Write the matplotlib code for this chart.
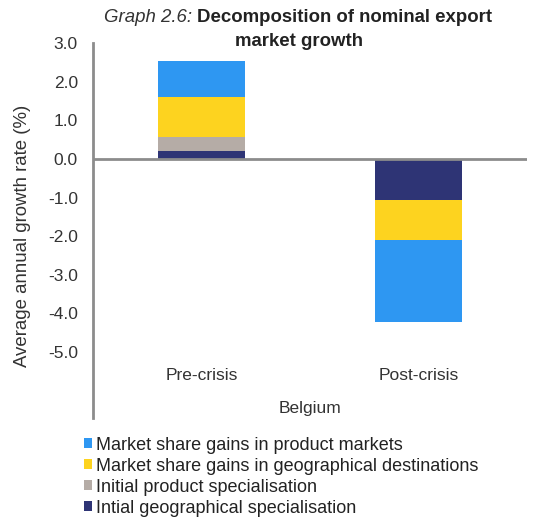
import matplotlib
matplotlib.use("Agg")
import matplotlib.pyplot as plt
from matplotlib.patches import Patch

plt.rcParams["font.family"] = ["Liberation Sans", "DejaVu Sans"]

categories = ["Pre-crisis", "Post-crisis"]
group_label = "Belgium"
series_names = [
    "Intial geographical specialisation",
    "Initial product specialisation",
    "Market share gains in geographical destinations",
    "Market share gains in product markets",
]
geo_spec = [0.21, -1.06]
prod_spec = [0.36, 0.0]
geo_dest = [1.04, -1.04]
prod_mkts = [0.93, -2.12]
colors = ["#2E3475", "#B5ACA6", "#FDD31F", "#2E97F2"]
yticks = [3.0, 2.0, 1.0, 0.0, -1.0, -2.0, -3.0, -4.0, -5.0]

FS = 12.5
TXT = "#333333"

fig = plt.figure(figsize=(5.35, 5.19), dpi=100)
ax = fig.add_axes([0.174, 0.195, 0.811, 0.722])

series = [geo_spec, prod_spec, geo_dest, prod_mkts]
x = list(range(len(categories)))
pos_base = [0.0] * len(x)
neg_base = [0.0] * len(x)
for vals, col in zip(series, colors):
    bottoms = []
    for i, v in enumerate(vals):
        if v >= 0:
            bottoms.append(pos_base[i]); pos_base[i] += v
        else:
            bottoms.append(neg_base[i]); neg_base[i] += v
    ax.bar(x, vals, bottom=bottoms, width=0.4, color=col, edgecolor="none", zorder=2)

ax.set_xlim(-0.5, 1.5)
ax.set_ylim(-6.7, 3.0)
ax.set_yticks(yticks)
ax.set_yticklabels([f"{t:.1f}" for t in yticks], fontsize=FS, color=TXT)
ax.tick_params(axis="y", length=0, pad=11)
ax.set_xticks([])
ax.axhline(0, color="#8C8C8C", lw=2, zorder=3)
for s in ["top", "right", "bottom"]:
    ax.spines[s].set_visible(False)
ax.spines["left"].set_color("#8C8C8C")
ax.spines["left"].set_linewidth(2)
ax.set_ylabel("Average annual growth rate (%)", fontsize=13.4, color=TXT, va="center")
ax.yaxis.set_label_coords(-0.163, 0.485)

for i, c in enumerate(categories):
    ax.text(i, -5.6, c, ha="center", va="center", fontsize=FS, color=TXT)
ax.text(0.5, -6.45, group_label, ha="center", va="center", fontsize=FS, color=TXT)

# Title with italic prefix and bold rest
TFS = 13.4
fig.canvas.draw()
r = fig.canvas.get_renderer()
ty = 1 - 18 / 519
t1 = fig.text(0, ty, "Graph 2.6: ", fontsize=TFS, style="italic", color=TXT, va="center")
t2 = fig.text(0, ty, "Decomposition of nominal export", fontsize=TFS, weight="bold", color="#222222", va="center")
w1 = t1.get_window_extent(r).width / fig.bbox.width
w2 = t2.get_window_extent(r).width / fig.bbox.width
start = 298 / 535 - (w1 + w2) / 2
t1.set_x(start)
t2.set_x(start + w1)
fig.text(299 / 535, 1 - 42 / 519, "market growth", fontsize=TFS, weight="bold", color="#222222", ha="center", va="center")

handles = [Patch(facecolor=colors[i], edgecolor="none") for i in [3, 2, 1, 0]]
labels = [series_names[i] for i in [3, 2, 1, 0]]
fig.legend(handles, labels, loc="upper left", bbox_to_anchor=(0.14, 0.176), frameon=False,
           fontsize=13, handlelength=0.45, handleheight=0.45, handletextpad=0.2,
           labelspacing=0.22, borderpad=0, labelcolor="#222222")

fig.savefig("out.png", dpi=100)
